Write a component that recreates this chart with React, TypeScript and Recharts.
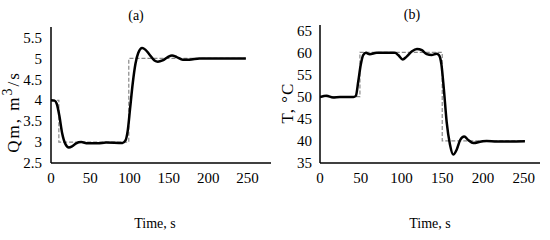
import { Line, LineChart, XAxis, YAxis } from 'recharts';

// (a) flow rate Qm
const timeA = [0, 4.5, 7.4, 10.8, 14.2, 18.4, 22.7, 27, 32, 38.4, 46.8, 59.5, 70, 91, 94.8, 97.7, 100.7, 104, 107.5, 111, 116, 120, 125, 131.7, 136, 142, 148.6, 154, 160, 167.7, 176, 189, 248];
const qm = [4.0, 3.99, 3.91, 3.61, 3.21, 2.95, 2.87, 2.9, 2.97, 3.0, 2.97, 2.97, 2.99, 2.98, 3.04, 3.28, 3.81, 4.4, 4.87, 5.13, 5.25, 5.21, 5.1, 4.95, 4.92, 4.95, 5.03, 5.07, 5.03, 4.97, 4.97, 5.0, 5.0];
const spTimeA = [0, 10, 10, 99, 99, 248];
const spQm = [4, 4, 3, 3, 5, 5];

// (b) temperature T
const timeB = [0, 8, 16, 24.5, 41, 44, 47, 50, 53, 56.4, 61, 69.5, 92, 96, 101.5, 106, 112.5, 119, 125, 131, 137, 143, 146, 149, 152, 155.5, 159.5, 163.5, 167.7, 172, 177, 182, 188, 198, 204.5, 217, 251.5];
const temp = [49.9, 50.2, 49.8, 49.9, 49.9, 50.2, 53.5, 57.2, 59.4, 59.9, 59.6, 59.9, 59.9, 59.4, 58.4, 59.0, 60.2, 60.8, 60.5, 59.6, 59.4, 59.7, 59.4, 57.3, 51.7, 44.2, 39.2, 36.9, 38.0, 40.2, 41.0, 40.2, 39.5, 39.85, 40.0, 39.85, 39.9];
const spTimeB = [0, 49, 49, 150, 150, 251.5];
const spTemp = [50, 50, 60, 60, 40, 40];

const timeTicks = [0, 50, 100, 150, 200, 250];
const qmTicks = [2.5, 3, 3.5, 4, 4.5, 5, 5.5];
const tempTicks = [35, 40, 45, 50, 55, 60, 65];

const FONT = '"Liberation Serif", "Times New Roman", serif';

const toPoints = (ts: number[], vs: number[]) => ts.map((t, i) => ({ t, v: vs[i] }));

const axisLine = { stroke: '#000', strokeWidth: 1.5 };

function xTick({ x, y, payload }: any) {
    return (
        <text x={x} y={y + 1} dy="0.71em" textAnchor="middle" fill="#000" fontFamily={FONT} fontSize={15}>
            {payload.value}
        </text>
    );
}

function yTick({ x, y, payload }: any) {
    return (
        <text x={x} y={y} dy="0.35em" textAnchor="end" fill="#000" fontFamily={FONT} fontSize={15}>
            {payload.value}
        </text>
    );
}

function Text({
    x,
    y,
    children,
    rotate,
    size = 14,
    spacing = 0,
}: {
    x: number;
    y: number;
    children: React.ReactNode;
    rotate?: boolean;
    size?: number;
    spacing?: number;
}) {
    return (
        <div
            style={{
                position: 'absolute',
                left: x,
                top: y,
                transform: `translate(-50%, -50%)${rotate ? ' rotate(-90deg)' : ''}`,
                whiteSpace: 'nowrap',
                fontFamily: FONT,
                fontSize: size,
                letterSpacing: spacing,
                color: '#000',
                lineHeight: 1,
            }}
        >
            {children}
        </div>
    );
}

interface PanelProps {
    measured: { t: number; v: number }[];
    setpoint: { t: number; v: number }[];
    xMax: number;
    yDomain: [number, number];
    yTicks: number[];
    yWidth: number;
    top: number;
    right: number;
}

function Panel({ measured, setpoint, xMax, yDomain, yTicks, yWidth, top, right }: PanelProps) {
    return (
        <LineChart width={275} height={240} margin={{ top, right, bottom: 47, left: 0 }}>
            <XAxis
                type="number"
                dataKey="t"
                domain={[0, xMax]}
                ticks={timeTicks}
                allowDataOverflow
                tickLine={false}
                axisLine={axisLine}
                tick={xTick}
                interval={0}
            />
            <YAxis
                type="number"
                dataKey="v"
                domain={yDomain}
                ticks={yTicks}
                allowDataOverflow
                width={yWidth}
                tickLine={false}
                tickMargin={yWidth > 48 ? 3 : 2}
                axisLine={axisLine}
                tick={yTick}
                interval={0}
            />
            <Line
                data={setpoint}
                dataKey="v"
                type="linear"
                stroke="#888"
                strokeWidth={1.2}
                strokeDasharray="4 2"
                dot={false}
                isAnimationActive={false}
            />
            <Line
                data={measured}
                dataKey="v"
                type="monotone"
                stroke="#000"
                strokeWidth={2.5}
                dot={false}
                isAnimationActive={false}
            />
        </LineChart>
    );
}

export default function App() {
    return (
        <div style={{ position: 'absolute', left: 0, top: 0, width: 550, height: 240, background: '#fff', fontFamily: FONT }}>
            <div style={{ position: 'absolute', left: 0, top: 0 }}>
                <Panel
                    measured={toPoints(timeA, qm)}
                    setpoint={toPoints(spTimeA, spQm)}
                    xMax={280}
                    yDomain={[2.5, 5.75]}
                    yTicks={qmTicks}
                    yWidth={51}
                    top={27}
                    right={4}
                />
            </div>
            <div style={{ position: 'absolute', left: 275, top: 0 }}>
                <Panel
                    measured={toPoints(timeB, temp)}
                    setpoint={toPoints(spTimeB, spTemp)}
                    xMax={270}
                    yDomain={[35, 66.2]}
                    yTicks={tempTicks}
                    yWidth={45}
                    top={25}
                    right={10}
                />
            </div>
            <Text x={136} y={16}>(a)</Text>
            <Text x={412} y={15}>(b)</Text>
            <Text x={155} y={224}>Time, s</Text>
            <Text x={430} y={224}>Time, s</Text>
            <Text x={13} y={112} rotate size={17} spacing={2}>
                Qm, m<sup style={{ fontSize: 14, verticalAlign: '0.45em', lineHeight: 0 }}>3</sup>/s
            </Text>
            <Text x={287} y={103} rotate size={17} spacing={1}>T, °C</Text>
        </div>
    );
}
